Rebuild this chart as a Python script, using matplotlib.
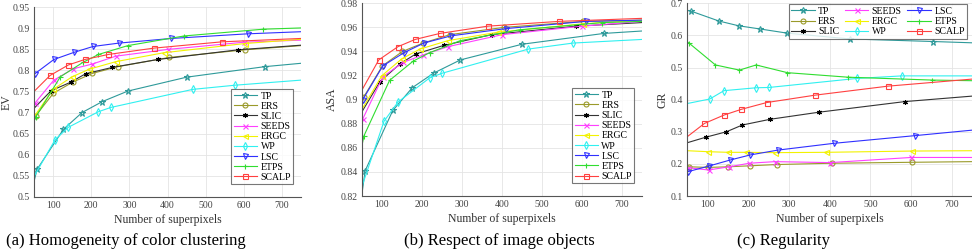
import matplotlib
matplotlib.use("Agg")
import matplotlib.pyplot as plt

plt.rcParams["font.family"] = ["Liberation Serif", "DejaVu Serif"]

methods = ["TP", "ERS", "SLIC", "SEEDS", "ERGC", "WP", "LSC", "ETPS", "SCALP"]

# number of superpixels per method (first = 50 and last = 750 are the line ends, no marker)
x_tp = [50, 58, 127, 176, 229, 296, 450, 655, 750]
x_ers = [50, 54, 101, 151, 203, 270, 405, 603, 750]
x_slic = [50, 95, 146, 185, 254, 374, 585, 750]
x_seeds = [50, 52, 102, 153, 202, 265, 401, 600, 750]
x_ergc = [50, 100, 150, 195, 265, 390, 603, 750]
x_wp = [50, 105, 140, 219, 251, 466, 578, 750]
x_lsc = [50, 52, 102, 155, 205, 273, 410, 610, 750]
x_etps = [50, 55, 119, 178, 219, 296, 444, 651, 750]
x_scalp = [50, 92, 140, 183, 245, 364, 543, 750]

# (a) explained variation
ev_tp = [0.536, 0.565, 0.660, 0.700, 0.726, 0.751, 0.784, 0.809, 0.817]
ev_ers = [0.685, 0.692, 0.746, 0.772, 0.793, 0.809, 0.831, 0.849, 0.859]
ev_slic = [0.710, 0.752, 0.772, 0.792, 0.807, 0.826, 0.849, 0.860]
ev_seeds = [0.720, 0.722, 0.777, 0.804, 0.815, 0.834, 0.850, 0.867, 0.872]
ev_ergc = [0.690, 0.755, 0.785, 0.803, 0.821, 0.842, 0.864, 0.874]
ev_wp = [0.548, 0.635, 0.665, 0.702, 0.712, 0.755, 0.765, 0.777]
ev_lsc = [0.790, 0.792, 0.826, 0.843, 0.857, 0.865, 0.876, 0.887, 0.892]
ev_etps = [0.680, 0.690, 0.785, 0.819, 0.838, 0.859, 0.882, 0.898, 0.901]
ev_scalp = [0.750, 0.788, 0.813, 0.826, 0.838, 0.853, 0.868, 0.876]

# (b) achievable segmentation accuracy
asa_tp = [0.822, 0.841, 0.891, 0.910, 0.922, 0.933, 0.946, 0.955, 0.957]
asa_ers = [0.898, 0.902, 0.928, 0.940, 0.947, 0.954, 0.960, 0.965, 0.966]
asa_slic = [0.890, 0.915, 0.930, 0.938, 0.945, 0.954, 0.961, 0.964]
asa_seeds = [0.882, 0.884, 0.919, 0.931, 0.937, 0.944, 0.954, 0.961, 0.965]
asa_ergc = [0.892, 0.920, 0.934, 0.942, 0.949, 0.956, 0.963, 0.966]
asa_wp = [0.828, 0.882, 0.898, 0.918, 0.922, 0.942, 0.947, 0.950]
asa_lsc = [0.898, 0.900, 0.928, 0.939, 0.947, 0.953, 0.959, 0.965, 0.966]
asa_etps = [0.862, 0.870, 0.916, 0.932, 0.939, 0.949, 0.958, 0.964, 0.965]
asa_scalp = [0.908, 0.933, 0.944, 0.950, 0.955, 0.961, 0.965, 0.9675]

# (c) global regularity
gr_tp = [0.678, 0.676, 0.645, 0.630, 0.620, 0.607, 0.589, 0.581, 0.577]
gr_ers = [0.191, 0.191, 0.189, 0.191, 0.194, 0.198, 0.202, 0.205, 0.207]
gr_slic = [0.266, 0.283, 0.300, 0.321, 0.339, 0.361, 0.394, 0.411]
gr_seeds = [0.190, 0.188, 0.181, 0.191, 0.202, 0.207, 0.204, 0.220, 0.220]
gr_ergc = [0.241, 0.238, 0.236, 0.236, 0.235, 0.236, 0.240, 0.241]
gr_wp = [0.388, 0.402, 0.428, 0.437, 0.438, 0.466, 0.474, 0.474]
gr_lsc = [0.175, 0.176, 0.193, 0.212, 0.228, 0.243, 0.264, 0.288, 0.305]
gr_etps = [0.580, 0.575, 0.508, 0.492, 0.508, 0.484, 0.470, 0.461, 0.459]
gr_scalp = [0.285, 0.326, 0.352, 0.370, 0.391, 0.414, 0.442, 0.464]

xs = [x_tp, x_ers, x_slic, x_seeds, x_ergc, x_wp, x_lsc, x_etps, x_scalp]
ev = [ev_tp, ev_ers, ev_slic, ev_seeds, ev_ergc, ev_wp, ev_lsc, ev_etps, ev_scalp]
asa = [asa_tp, asa_ers, asa_slic, asa_seeds, asa_ergc, asa_wp, asa_lsc, asa_etps, asa_scalp]
gr = [gr_tp, gr_ers, gr_slic, gr_seeds, gr_ergc, gr_wp, gr_lsc, gr_etps, gr_scalp]

colors = ["#2e9a9a", "#9a9a2a", "#333333", "#ff40ff", "#f2f200",
          "#30f0f0", "#3030ff", "#30dd30", "#ff4040"]
markers = ["*", "o", (6, 2, 0), "x", "<", "d", "v", "+", "s"]

fig = plt.figure(figsize=(9.72, 2.52), dpi=100)
ax1 = fig.add_axes([0.0350, 0.2194, 0.2747, 0.7516])
ax2 = fig.add_axes([0.3724, 0.2222, 0.2881, 0.7647])
ax3 = fig.add_axes([0.7072, 0.2222, 0.2928, 0.7647])

panels = [
    (ax1, ev, "EV", (0.5, 0.95), [0.5 + 0.05 * i for i in range(10)], -0.079),
    (ax2, asa, "ASA", (0.82, 0.98), [0.82 + 0.02 * i for i in range(9)], -0.086),
    (ax3, gr, "GR", (0.1, 0.7), [0.1 + 0.1 * i for i in range(7)], -0.067),
]

for ax, ys, lab, ylim, yt, lx in panels:
    for m, x, y, c, mk in zip(methods, xs, ys, colors, markers):
        ax.plot(x, y, color=c, lw=0.8, marker=mk, markevery=slice(1, len(x) - 1),
                ms=4.5 if mk == "*" else 3.6, mfc="none" if mk not in ("x", "+", (6, 2, 0)) else c,
                mec=c if mk != (6, 2, 0) else "black", mew=0.8, label=m)
    ax.set_xlim(50, 750)
    ax.set_ylim(*ylim)
    ax.set_xticks(range(100, 701, 100))
    ax.set_yticks(yt)
    ax.set_yticklabels(["%g" % round(v, 2) for v in yt])
    ax.grid(True, color="#e4e4e4", lw=0.6)
    ax.set_axisbelow(True)
    for s in ["top", "right"]:
        ax.spines[s].set_visible(False)
    for s in ["left", "bottom"]:
        ax.spines[s].set_color("#555555")
        ax.spines[s].set_linewidth(0.8)
    ax.tick_params(labelsize=7, length=0, pad=3, colors="#444444")
    ax.set_xlabel("Number of superpixels", fontsize=8.5, color="#333333", labelpad=3)
    ax.set_ylabel(lab, fontsize=8.5, color="#333333")
    ax.yaxis.set_label_coords(lx, 0.5)

leg_kw = dict(fontsize=7, frameon=True, fancybox=False, edgecolor="#555555",
              borderpad=0.25, labelspacing=0.12, handlelength=2.4, handletextpad=0.35)
l1 = ax1.legend(loc="lower right", bbox_to_anchor=(0.99, 0.04), **leg_kw)
l2 = ax2.legend(loc="lower right", bbox_to_anchor=(0.99, 0.04), **leg_kw)
l3 = ax3.legend(loc="upper right", bbox_to_anchor=(1.0, 1.02), ncol=3, columnspacing=0.6, **leg_kw)
for l in (l1, l2, l3):
    l.get_frame().set_linewidth(0.8)

fig.text(0.130, 0.045, "(a) Homogeneity of color clustering", ha="center", va="center", fontsize=12)
fig.text(0.514, 0.045, "(b) Respect of image objects", ha="center", va="center", fontsize=12)
fig.text(0.806, 0.045, "(c) Regularity", ha="center", va="center", fontsize=12)

fig.savefig("out.png", dpi=100)
